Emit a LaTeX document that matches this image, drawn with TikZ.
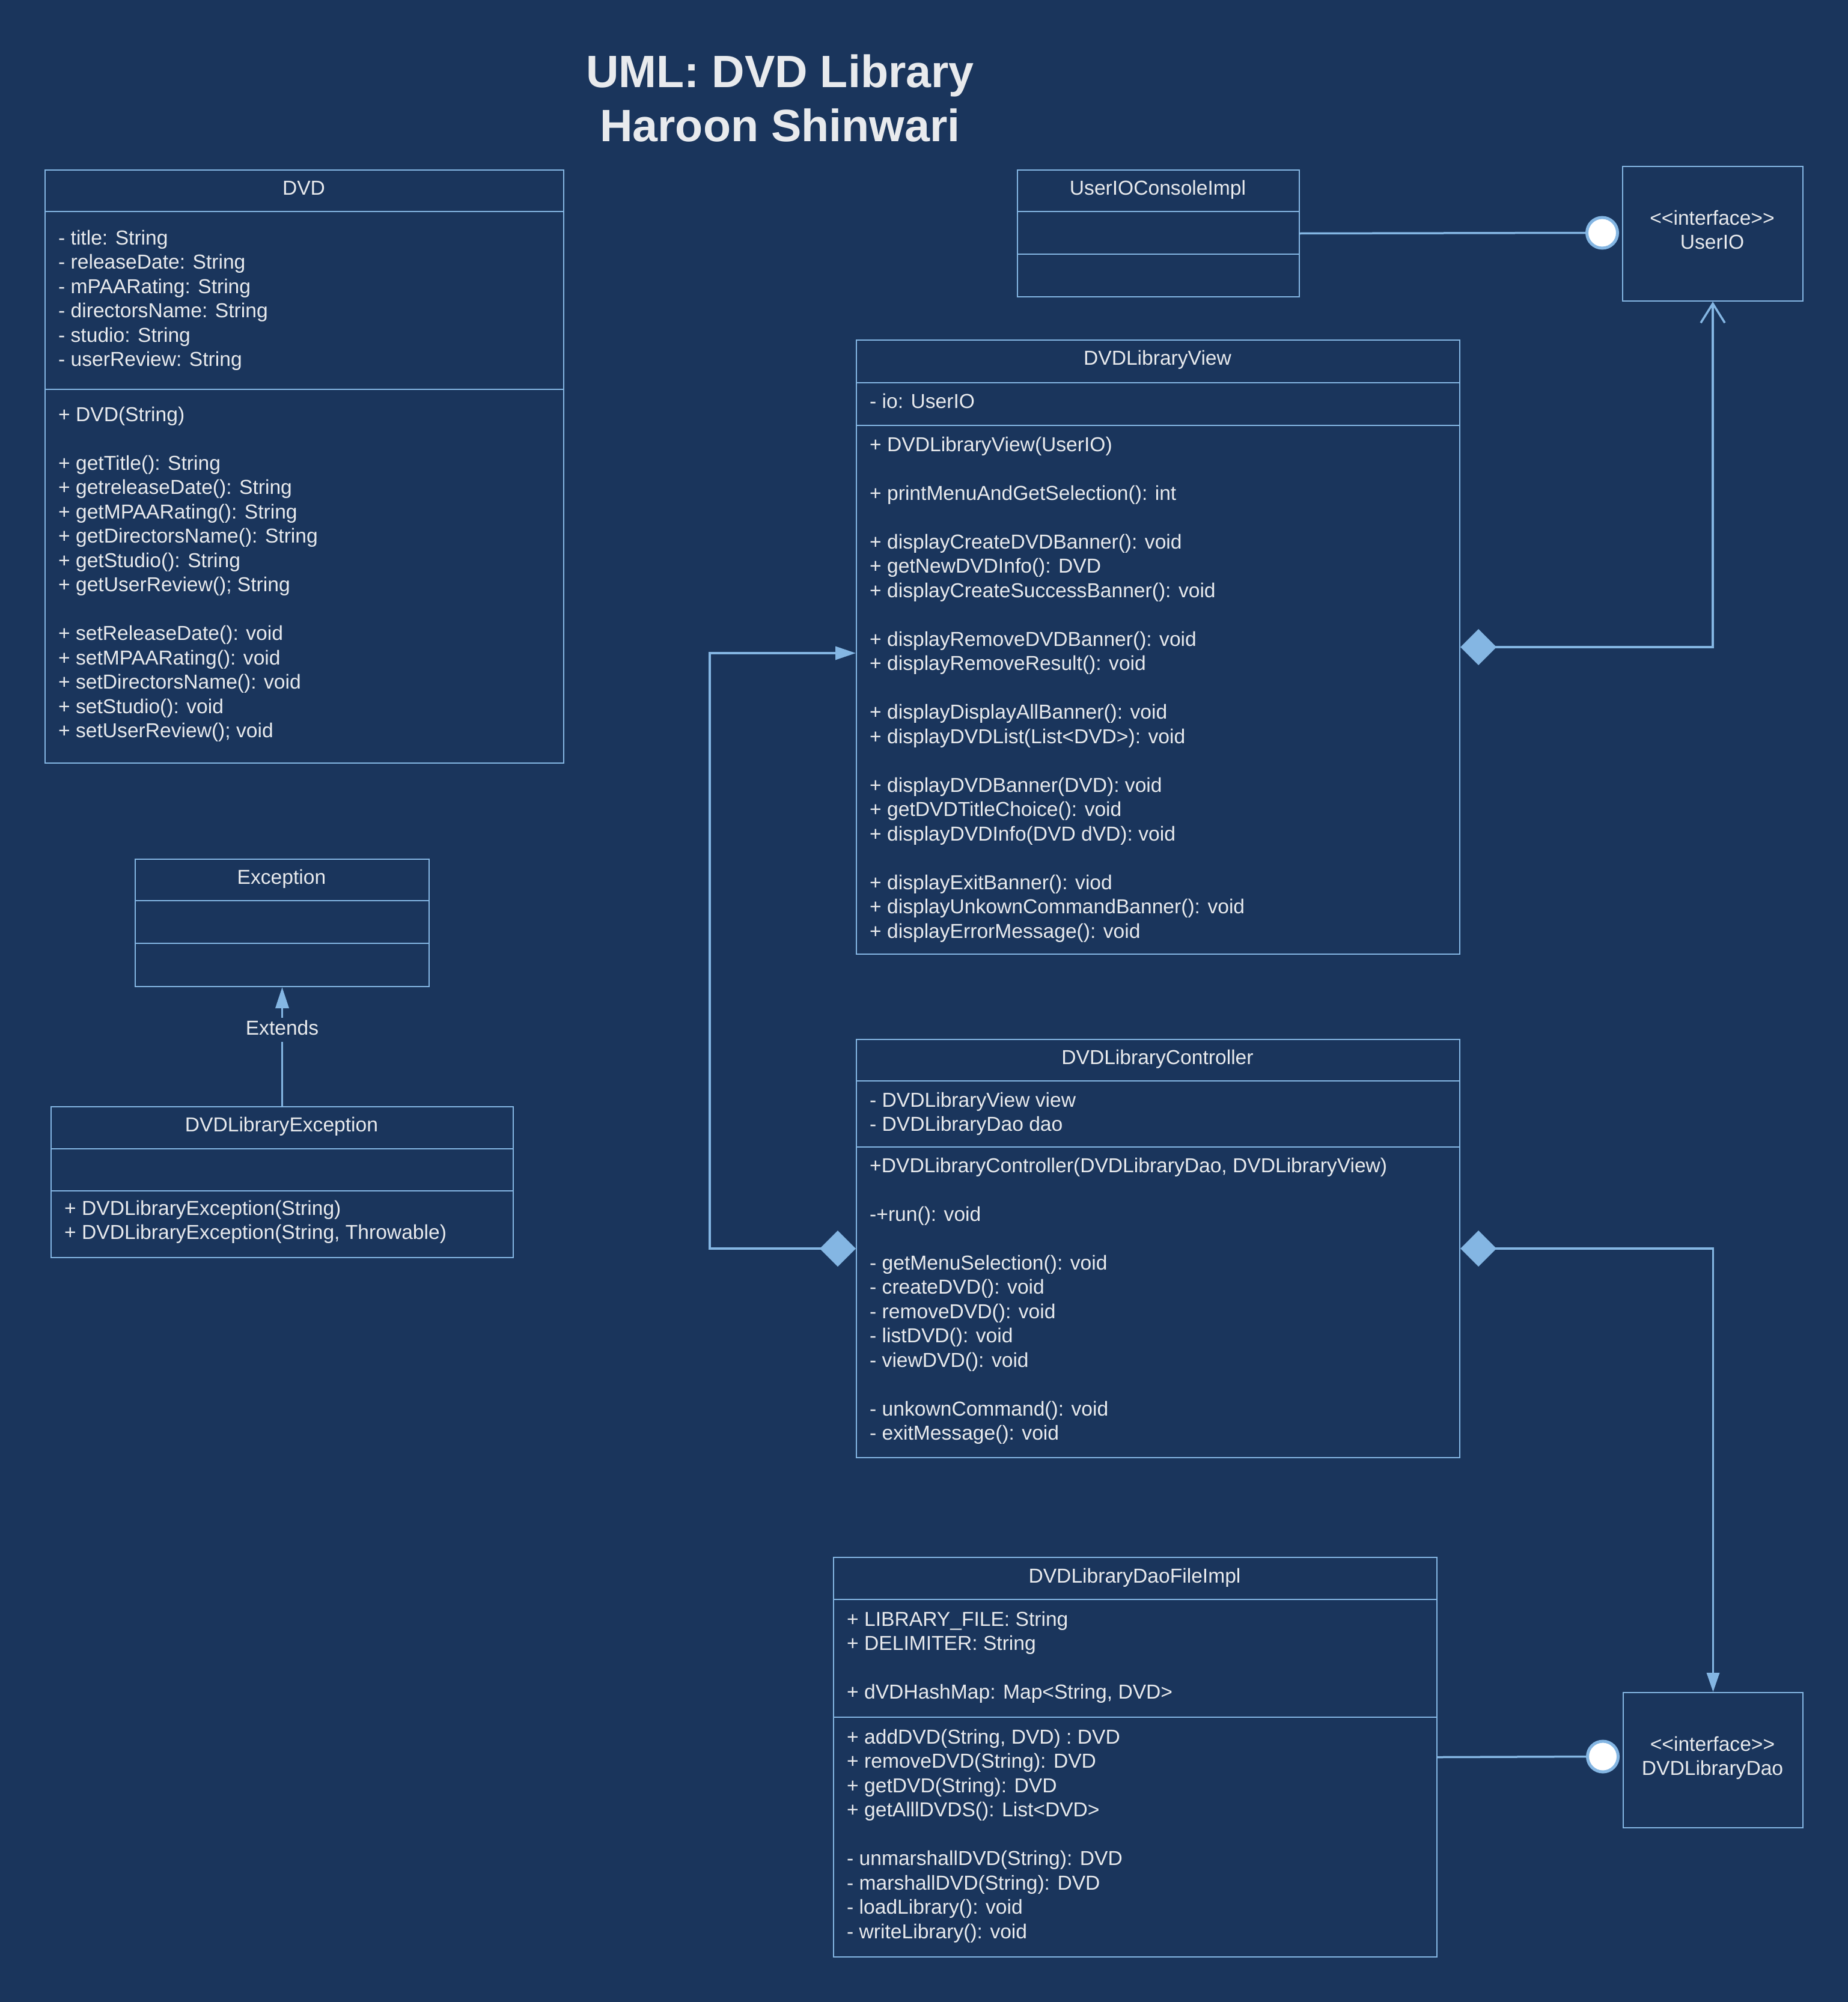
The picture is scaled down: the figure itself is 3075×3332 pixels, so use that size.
\documentclass[tikz,border=0pt]{standalone}
\usepackage{fontspec}
\setmainfont{Liberation Sans}
\usetikzlibrary{arrows.meta,calc}
\definecolor{bgc}{HTML}{1A355C}
\definecolor{lnc}{HTML}{84B6E3}
\definecolor{txc}{HTML}{E8EAED}
\newcommand\bodyf{\fontsize{33.6}{40.5}\selectfont}
\newcommand\titlef{\bfseries\fontsize{75.5}{90}\selectfont}
\newcommand\fl{\rule{0pt}{30pt}}
\newcommand\gl{\\[40.5pt]}
\newcommand\ifc{<\kern0pt<interface>\kern0pt>}
\begin{document}
\begin{tikzpicture}[x=1pt,y=-1pt,
 box/.style={draw=lnc, line width=2pt, anchor=north west, inner sep=0},
 sepl/.style={draw=lnc, line width=2pt},
 ttl/.style={anchor=base, inner sep=0, text=txc, font=\bodyf},
 txt/.style={anchor=north west, inner sep=0, align=left, text=txc, font=\bodyf},
 ctxt/.style={anchor=north, inner sep=0, align=center, text=txc, font=\bodyf},
 conn/.style={draw=lnc, line width=3.5pt},
 lolli/.style={circle, draw=lnc, fill=white, line width=5pt, minimum size=51pt, inner sep=0},
]
\fill[bgc] (0,0) rectangle (3075,3332);
\useasboundingbox (0,0) rectangle (3075,3332);

% title
\node[anchor=north, inner sep=0, align=center, text=txc, font=\titlef] (title) at (1298,85)
  {\rule{0pt}{60pt}UML: DVD Library\\Haroon Shinwari};

% DVD
\node[box, minimum width=863pt, minimum height=987pt] (dvd) at (74,282) {};
\draw[sepl] (74,352) -- (937,352);
\draw[sepl] (74,648) -- (937,648);
\node[ttl] (dvdt) at (505.5,324) {DVD};
\node[txt] (dvda) at (97,377) {\fl- title: String\\- releaseDate: String\\- mPAARating: String\\- directorsName: String\\- studio: String\\- userReview: String};
\node[txt] (dvdm) at (97,671) {\fl+ DVD(String)\gl+ getTitle(): String\\+ getreleaseDate(): String\\+ getMPAARating(): String\\+ getDirectorsName(): String\\+ getStudio(): String\\+ getUserReview(); String\gl+ setReleaseDate(): void\\+ setMPAARating(): void\\+ setDirectorsName(): void\\+ setStudio(): void\\+ setUserReview(); void};

% UserIOConsoleImpl
\node[box, minimum width=469pt, minimum height=211pt] (uioc) at (1692,282) {};
\draw[sepl] (1692,352) -- (2161,352);
\draw[sepl] (1692,423) -- (2161,423);
\node[ttl] (uioct) at (1926.5,324) {UserIOConsoleImpl};

% UserIO
\node[box, minimum width=300pt, minimum height=224pt] (uio) at (2699,276) {};
\node[ctxt] (uiot) at (2849,344) {\fl\ifc\\UserIO};

% DVDLibraryView
\node[box, minimum width=1004pt, minimum height=1022pt] (view) at (1424,565) {};
\draw[sepl] (1424,637) -- (2428,637);
\draw[sepl] (1424,708) -- (2428,708);
\node[ttl] (viewt) at (1926,607) {DVDLibraryView};
\node[txt] (viewa) at (1447,649) {\fl- io: UserIO};
\node[txt] (viewm) at (1447,721) {\fl+ DVDLibraryView(UserIO)\gl+ printMenuAndGetSelection(): int\gl+ displayCreateDVDBanner(): void\\+ getNewDVDInfo(): DVD\\+ displayCreateSuccessBanner(): void\gl+ displayRemoveDVDBanner(): void\\+ displayRemoveResult(): void\gl+ displayDisplayAllBanner(): void\\+ displayDVDList(List<DVD>): void\gl+ displayDVDBanner(DVD): void\\+ getDVDTitleChoice(): void\\+ displayDVDInfo(DVD dVD): void\gl+ displayExitBanner(): viod\\+ displayUnkownCommandBanner(): void\\+ displayErrorMessage(): void};

% DVDLibraryController
\node[box, minimum width=1004pt, minimum height=696pt] (ctrl) at (1424,1729) {};
\draw[sepl] (1424,1799) -- (2428,1799);
\draw[sepl] (1424,1909) -- (2428,1909);
\node[ttl] (ctrlt) at (1926,1771) {DVDLibraryController};
\node[txt] (ctrla) at (1447,1812) {\fl- DVDLibraryView view\\- DVDLibraryDao dao};
\node[txt] (ctrlm) at (1447,1921) {\fl+DVDLibraryController(DVDLibraryDao, DVDLibraryView)\gl-+run(): void\gl- getMenuSelection(): void\\- createDVD(): void\\- removeDVD(): void\\- listDVD(): void\\- viewDVD(): void\gl- unkownCommand(): void\\- exitMessage(): void};

% DVDLibraryDaoFileImpl
\node[box, minimum width=1004pt, minimum height=665pt] (dao) at (1386,2591) {};
\draw[sepl] (1386,2662) -- (2390,2662);
\draw[sepl] (1386,2858) -- (2390,2858);
\node[ttl] (daot) at (1888,2634) {DVDLibraryDaoFileImpl};
\node[txt] (daoa) at (1409,2676) {\fl+ LIBRARY\_FILE: String\\+ DELIMITER: String\gl+ dVDHashMap: Map<String, DVD>};
\node[txt] (daom) at (1409,2872) {\fl+ addDVD(String, DVD) : DVD\\+ removeDVD(String): DVD\\+ getDVD(String): DVD\\+ getAlllDVDS(): List<DVD>\gl- unmarshallDVD(String): DVD\\- marshallDVD(String): DVD\\- loadLibrary(): void\\- writeLibrary(): void};

% DVDLibraryDao interface
\node[box, minimum width=299pt, minimum height=225pt] (ddao) at (2700,2816) {};
\node[ctxt] (ddaot) at (2849.5,2884) {\fl\ifc\\DVDLibraryDao};

% Exception
\node[box, minimum width=489pt, minimum height=212pt] (exc) at (224,1429) {};
\draw[sepl] (224,1499) -- (713,1499);
\draw[sepl] (224,1570) -- (713,1570);
\node[ttl] (exct) at (468.5,1471) {Exception};

% DVDLibraryException
\node[box, minimum width=769pt, minimum height=251pt] (dexc) at (84,1841) {};
\draw[sepl] (84,1912) -- (853,1912);
\draw[sepl] (84,1982) -- (853,1982);
\node[ttl] (dexct) at (468.5,1883) {DVDLibraryException};
\node[txt] (dexcm) at (107,1992) {\fl+ DVDLibraryException(String)\\+ DVDLibraryException(String, Throwable)};

% lollipops
\node[lolli] (lp1) at (2666,387.5) {};
\node[lolli] (lp2) at (2667,2923.5) {};

% connectors
\draw[conn] (uioc.east) -- (lp1.west);
\draw[conn] (dao.east) -- (lp2.west);
\coordinate (vin) at (1424,1087);
\draw[conn, {Diamond[length=60pt,width=60pt,fill=lnc]}-{Straight Barb[length=32pt,width=40pt]}] (view.east) -| (uio.south);
\draw[conn, {Diamond[length=60pt,width=60pt,fill=lnc]}-{Triangle[length=34pt,width=22pt,fill=lnc]}] (ctrl.west) -- ++(-243,0) |- (vin);
\draw[conn, {Diamond[length=60pt,width=60pt,fill=lnc]}-{Triangle[length=32pt,width=21pt,fill=lnc]}] (ctrl.east) -| (ddao.north);
\draw[conn, -{Triangle[length=35pt,width=22pt,fill=lnc]}] (dexc.north) -- node[pos=0.64, fill=bgc, text=txc, font=\bodyf, inner xsep=2pt, text height=23pt, text depth=7pt, inner ysep=5pt] (ext) {Extends} (exc.south);
\end{tikzpicture}
\end{document}
